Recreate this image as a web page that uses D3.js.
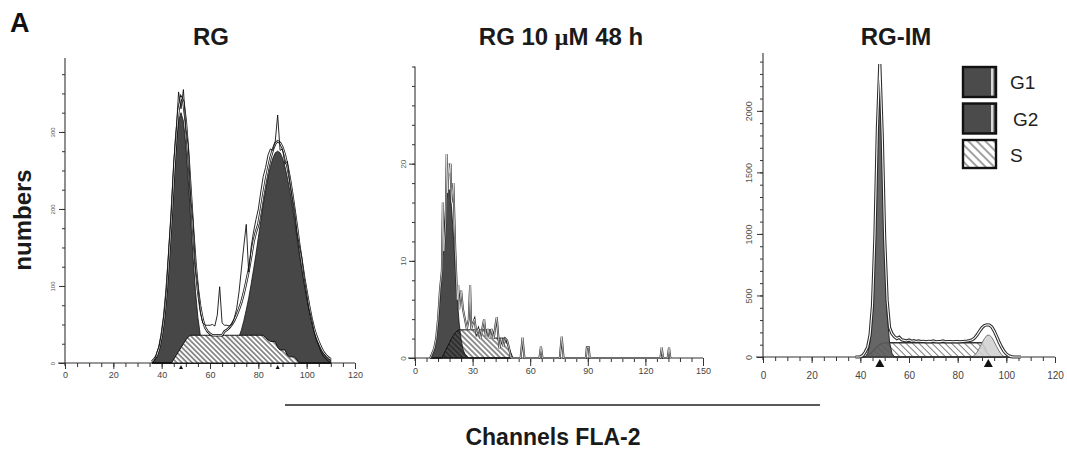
<!DOCTYPE html>
<html>
<head>
<meta charset="utf-8">
<script src="https://cdn.jsdelivr.net/npm/d3@7"></script>
<style>
  body { margin: 0; background: #fff; }
  svg { display: block; font-family: "Liberation Sans", Arial, sans-serif; }
</style>
</head>
<body>
<svg id="chart" width="1067" height="450"></svg>
<script>
// ---- data ----
var panelTitles = ["RG", "RG 10 ", "RG-IM"];

// panel 1 : RG  (channel 36..110)
var ch1 = [36,37,38,39,40,41,42,43,44,45,46,47,48,49,50,51,52,53,54,55,56,57,58,59,60,61,62,63,64,65,66,67,68,69,70,71,72,73,74,75,76,77,78,79,80,81,82,83,84,85,86,87,88,89,90,91,92,93,94,95,96,97,98,99,100,101,102,103,104,105,106,107,108,109,110];
var g1_1 = [2,5,10,20,36,59,93,137,187,238,283,314,325,314,283,238,187,137,93,59,36,20,10,5,2,0,0,0,0,0,0,0,0,0,0,0,0,0,0,0,0,0,0,0,0,0,0,0,0,0,0,0,0,0,0,0,0,0,0,0,0,0,0,0,0,0,0,0,0,0,0,0,0,0,0];
var g2_1 = [0,0,0,0,0,0,0,0,0,0,0,0,0,0,0,0,0,0,0,0,0,0,0,0,0,0,0,0,0,0,5,7,10,14,19,26,34,43,55,69,84,102,121,141,163,184,205,224,241,255,266,273,275,273,266,255,241,224,205,184,163,141,121,102,84,69,55,43,34,26,19,14,10,7,5];
var s_1 = [0,0,0,0,0,0,0,0,0,5,10,15,20,25,30,34,36,36,36,36,36,36,36,36,36,36,36,36,36,36,36,36,36,36,36,36,36,36,36,36,36,36,36,36,36,36,36,33,30,28,28,28,20,17,17,17,10,8,8,8,4,0,0,0,0,0,0,0,0,0,0,0,0,0,0];
var fit_1 = [2,5,10,20,36,59,93,137,187,243,293,329,345,339,313,272,223,173,129,95,72,56,46,41,38,36,36,36,36,36,41,43,46,50,55,62,70,79,91,105,120,138,157,170,180,198,218,236,252,266,277,285,288,286,280,270,256,240,220,198,176,152,131,110,92,74,58,45,35,27,20,14,10,7,5];
var raw_1 = [0,3,14,22,40,64,98,150,196,262,300,352,330,355,305,282,215,182,122,100,66,52,49,49,49,50,48,62,99,52,49,49,48,50,58,70,92,122,152,180,118,150,170,186,200,222,242,254,270,278,276,288,322,276,278,258,262,236,216,198,170,152,136,110,90,70,58,42,30,22,14,8,5,2,0];
var marks_1 = [48, 88];

// panel 2 : RG 10 uM 48 h  (channel 8..52 for the fitted parts)
var ch2 = [8,9,10,11,12,13,14,15,16,17,18,19,20,21,22,23,24,25,26,27,28,29,30,31,32,33,34,35,36,37,38,39,40,41,42,43,44,45,46,47,48,49,50,51,52];
var g1_2 = [0.2,0.4,0.9,1.9,3.6,6.1,9.2,12.6,15.6,17.3,17.3,15.6,12.6,9.2,6.1,3.6,1.9,0.9,0.4,0.2,0,0,0,0,0,0,0,0,0,0,0,0,0,0,0,0,0,0,0,0,0,0,0,0,0];
var s_2 = [0,0,0,0,0,0,0,0.4,0.8,1.2,1.6,2.0,2.3,2.6,2.8,2.9,2.9,2.9,2.9,2.9,2.9,2.9,2.9,2.9,2.9,2.9,2.9,2.9,2.9,2.9,2.9,2.9,2.9,2.05,2.05,2.05,2.05,2.05,2.05,2.05,1.5,1.0,0.5,0,0];
var rawCh2 = [8,9,10,11,12,13,14,14.5,15,16,16.5,17,17.5,18,18.5,19,20,21,22,22.5,23,24,25,26,27,28,28.7,29.3,30,31,32,33,34,35,36,37,38,39,40,41,42,42.6,43.5,44,45,46,47,48,49,50,55,56,57,64.8,65.6,66.4,75.4,76.4,77.4,89,89.5,90.5,91,127.8,128.5,129.2,131.6,132.3,133];
var raw_2 = [0,0.5,1,2,4,7,9,16,11,14,21,17,20,19,20,16,18,11,6,7.5,5,7,5,4,3,4,7.5,3,3.5,4,2.5,3,2,3,4,2,3,2,3,2,3.5,4.2,2,1,2,1.2,2,1.8,1,0,0,2.1,0,0,1.2,0,0,2.2,0,0,1.1,1.1,0,0,1.1,0,0,1.1,0];

// panel 3 : RG-IM  (channel 38..106)
var ch3 = [38,39,40,41,42,43,44,45,46,47,48,49,50,51,52,53,54,55,56,57,58,59,60,61,62,63,64,65,66,67,68,69,70,71,72,73,74,75,76,77,78,79,80,81,82,83,84,85,86,87,88,89,90,91,92,93,94,95,96,97,98,99,100,101,102,103,104,105,106];
var g1_3 = [0,0,0,0,0,30,120,350,900,1750,2350,1700,850,350,120,30,0,0,0,0,0,0,0,0,0,0,0,0,0,0,0,0,0,0,0,0,0,0,0,0,0,0,0,0,0,0,0,0,0,0,0,0,0,0,0,0,0,0,0,0,0,0,0,0,0,0,0,0,0];
var g2_3 = [0,0,0,0,0,0,0,0,0,0,0,0,0,0,0,0,0,0,0,0,0,0,0,0,0,0,0,0,0,0,0,0,0,0,0,0,0,0,0,0,0,0,0,0,0,0,0,0,0,15,40,75,115,150,175,178,160,125,85,50,20,5,0,0,0,0,0,0,0];
var s_3 = [0,0,0,0,0,10,25,45,65,85,100,110,115,116,116,116,116,116,116,116,116,116,116,116,116,116,116,116,116,116,116,116,116,116,116,116,116,116,116,116,116,116,116,116,116,116,116,116,116,116,116,116,116,80,40,10,0,0,0,0,0,0,0,0,0,0,0,0,0];
var fit_3 = [0,0,2,12,40,80,180,420,980,1850,2380,1800,960,460,240,190,165,150,160,140,135,130,138,128,132,126,130,126,128,124,127,125,130,124,126,125,130,124,126,125,124,126,125,124,126,128,130,134,140,155,180,210,238,255,262,260,245,212,168,122,82,48,25,10,3,0,0,0,0];
var marks_3 = [48, 92.6];

// axis ticks
var xTicks1 = [0, 20, 40, 60, 80, 100, 120];
var yTicks1 = [0, 100, 200, 300];
var xTicks2 = [0, 30, 60, 90, 120, 150];
var yTicks2 = [0, 10, 20];
var xTicks3 = [0, 20, 40, 60, 80, 100, 120];
var yTicks3 = [0, 500, 1000, 1500, 2000];

var legendLabels = ["G1", "G2", "S"];

// ---- drawing ----
var svg = d3.select("#chart");
var defs = svg.append("defs");

function hatch(id, gap, color, w, bg) {
  var p = defs.append("pattern").attr("id", id)
    .attr("patternUnits", "userSpaceOnUse")
    .attr("width", gap).attr("height", gap)
    .attr("patternTransform", "rotate(-45)");
  if (bg) p.append("rect").attr("width", gap).attr("height", gap).attr("fill", bg);
  p.append("line").attr("x1", gap / 2).attr("x2", gap / 2).attr("y1", 0).attr("y2", gap)
    .attr("stroke", color).attr("stroke-width", w);
}
hatch("h1", 3.6, "#111", 0.9, "#fff");
hatch("h2", 3.8, "#111", 0.9, null);
hatch("h3", 4.6, "#7a7a7a", 1, "#fff");
hatch("hl", 6, "#555", 1.1, "#fff");

function zip(xs, ys) {
  return xs.map(function(c, i) { return { c: c, v: ys[i] }; });
}

function axes(g, x, y, o) {
  var base = y(0);
  // x axis line runs a little past the y axis
  g.append("line").attr("x1", x.range()[0] - 7).attr("x2", x.range()[1])
    .attr("y1", base).attr("y2", base).attr("stroke", "#333").attr("stroke-width", 1.1);
  g.append("line").attr("x1", x.range()[0]).attr("x2", x.range()[0])
    .attr("y1", y.range()[1]).attr("y2", base + 3).attr("stroke", "#333").attr("stroke-width", 1.1);

  var xm = g.append("g").attr("transform", "translate(0," + base + ")")
    .call(d3.axisBottom(x).tickValues(o.xMinor).tickSize(4).tickFormat(""));
  xm.select(".domain").remove();
  var xa = g.append("g").attr("transform", "translate(0," + base + ")")
    .call(d3.axisBottom(x).tickValues(o.xTicks).tickSize(o.xMajorLen).tickPadding(o.xPad).tickFormat(d3.format("d")));
  xa.select(".domain").remove();
  xa.selectAll("text").attr("fill", "#444").style("font-size", o.xFont + "px")
    .style("font-family", "'Liberation Sans', Arial, sans-serif");

  var ym = g.append("g").attr("transform", "translate(" + x.range()[0] + ",0)")
    .call(d3.axisLeft(y).tickValues(o.yMinor).tickSize(3).tickFormat(""));
  ym.select(".domain").remove();
  var ya = g.append("g").attr("transform", "translate(" + x.range()[0] + ",0)")
    .call(d3.axisLeft(y).tickValues(o.yTicks).tickSize(6).tickFormat(d3.format("d")));
  ya.select(".domain").remove();
  ya.selectAll("text")
    .attr("transform", "rotate(-90)")
    .attr("x", 0).attr("y", -o.yOff).attr("dy", "0.35em")
    .style("text-anchor", "middle")
    .attr("fill", "#555").style("font-size", o.yFont + "px")
    .style("font-family", "'Liberation Sans', Arial, sans-serif");
  g.selectAll(".tick line").attr("stroke", "#333");
}

function areaFor(x, y) {
  return d3.area().x(function(d) { return x(d.c); }).y0(y(0)).y1(function(d) { return y(d.v); });
}
function lineFor(x, y) {
  return d3.line().x(function(d) { return x(d.c); }).y(function(d) { return y(d.v); });
}
function markers(g, x, y, list, w, h) {
  g.selectAll(null).data(list).enter().append("path")
    .attr("d", function(d) {
      var cx = x(d), b = y(0) + 2;
      return "M" + cx + "," + b + "L" + (cx - w / 2) + "," + (b + h) + "L" + (cx + w / 2) + "," + (b + h) + "Z";
    })
    .attr("fill", "#111");
}

// panel 1
(function() {
  var x = d3.scaleLinear().domain([0, 120]).range([65, 355]);
  var y = d3.scaleLinear().domain([0, 396]).range([363, 58]);
  var g = svg.append("g");
  axes(g, x, y, {
    xTicks: xTicks1, xMinor: d3.range(0, 121, 5), xMajorLen: 6, xPad: 3, xFont: 9,
    yTicks: yTicks1, yMinor: d3.range(0, 396, 25), yOff: 12, yFont: 6
  });
  var area = areaFor(x, y), line = lineFor(x, y);
  g.append("path").datum(zip(ch1, g1_1)).attr("d", area).attr("fill", "#474747").attr("stroke", "#111").attr("stroke-width", 0.8);
  g.append("path").datum(zip(ch1, g2_1)).attr("d", area).attr("fill", "#474747").attr("stroke", "#111").attr("stroke-width", 0.8);
  g.append("path").datum(zip(ch1, s_1)).attr("d", area).attr("fill", "url(#h1)").attr("stroke", "#111").attr("stroke-width", 1);
  g.append("path").datum(zip(ch1, fit_1)).attr("d", line).attr("fill", "none").attr("stroke", "#111").attr("stroke-width", 2.4);
  g.append("path").datum(zip(ch1, fit_1)).attr("d", line).attr("fill", "none").attr("stroke", "#fff").attr("stroke-width", 0.9);
  g.append("path").datum(zip(ch1, raw_1)).attr("d", line).attr("fill", "none").attr("stroke", "#111").attr("stroke-width", 0.9);
  markers(g, x, y, marks_1, 4, 4);
})();

// panel 2
(function() {
  var x = d3.scaleLinear().domain([0, 150]).range([415, 703]);
  var y = d3.scaleLinear().domain([0, 30]).range([358, 66.5]);
  var g = svg.append("g");
  axes(g, x, y, {
    xTicks: xTicks2, xMinor: d3.range(0, 151, 6), xMajorLen: 8, xPad: 2, xFont: 9,
    yTicks: yTicks2, yMinor: d3.range(0, 31, 2), yOff: 12, yFont: 8
  });
  var area = areaFor(x, y), line = lineFor(x, y);
  g.append("path").datum(zip(ch2, g1_2)).attr("d", area).attr("fill", "#4a4a4a").attr("stroke", "#111").attr("stroke-width", 0.8);
  g.append("path").datum(zip(ch2, s_2)).attr("d", area).attr("fill", "url(#h2)").attr("stroke", "#111").attr("stroke-width", 1);
  var raw = zip(rawCh2, raw_2);
  var rline = line.defined(function(d, i) {
    return d.v > 0 || (i > 0 && raw[i - 1].v > 0) || (i < raw.length - 1 && raw[i + 1].v > 0);
  });
  g.append("path").datum(raw).attr("d", rline).attr("fill", "none").attr("stroke", "#222").attr("stroke-width", 2);
  g.append("path").datum(raw).attr("d", rline).attr("fill", "none").attr("stroke", "#fff").attr("stroke-width", 0.7);
})();

// panel 3
(function() {
  var x = d3.scaleLinear().domain([0, 120]).range([763, 1055]);
  var y = d3.scaleLinear().domain([0, 2470]).range([357, 53]);
  var g = svg.append("g");
  axes(g, x, y, {
    xTicks: xTicks3, xMinor: d3.range(0, 121, 5), xMajorLen: 6, xPad: 9, xFont: 10,
    yTicks: yTicks3, yMinor: d3.range(0, 2470, 100), yOff: 14, yFont: 9
  });
  var area = areaFor(x, y), line = lineFor(x, y);
  g.append("path").datum(zip(ch3, s_3)).attr("d", area).attr("fill", "url(#h3)").attr("stroke", "#333").attr("stroke-width", 1.4);
  g.append("path").datum(zip(ch3, g2_3)).attr("d", area).attr("fill", "#d2d2d2").attr("fill-opacity", 0.9).attr("stroke", "#777").attr("stroke-width", 1);
  g.append("path").datum(zip(ch3, g1_3)).attr("d", area).attr("fill", "#595959").attr("fill-opacity", 0.92).attr("stroke", "#2a2a2a").attr("stroke-width", 1);
  g.append("path").datum(zip(ch3, fit_3)).attr("d", line).attr("fill", "none").attr("stroke", "#2b2b2b").attr("stroke-width", 3.2);
  g.append("path").datum(zip(ch3, fit_3)).attr("d", line).attr("fill", "none").attr("stroke", "#fff").attr("stroke-width", 1.1);
  markers(g, x, y, marks_3, 9, 8);

  // legend
  var lg = svg.append("g").attr("transform", "translate(963,67)");
  var item = lg.selectAll("g").data(legendLabels).enter().append("g")
    .attr("transform", function(d, i) { return "translate(0," + (i * 36.5) + ")"; });
  item.append("rect").attr("width", 33).attr("height", function(d, i) { return i === 2 ? 28 : 30; })
    .attr("fill", function(d, i) { return i === 2 ? "url(#hl)" : "#4b4b4b"; })
    .attr("stroke", "#111").attr("stroke-width", 2.4);
  item.filter(function(d, i) { return i < 2; }).append("rect")
    .attr("x", 28).attr("y", 1.5).attr("width", 2.5).attr("height", 27).attr("fill", "#d8d8d8");
  item.append("text").attr("x", function(d, i) { return i === 1 ? 50 : 47; }).attr("y", 22)
    .attr("fill", "#222").style("font-size", "19px").text(function(d) { return d; });
})();

// titles and outer labels
var tx = [211, 561, 896];
panelTitles.forEach(function(t, i) {
  var el = svg.append("text").attr("x", tx[i]).attr("y", 45).attr("text-anchor", "middle")
    .style("font-size", "24px").style("font-weight", "bold").attr("fill", "#1a1a1a");
  if (i === 1) {
    el.append("tspan").text(t);
    el.append("tspan").style("font-family", "'Liberation Serif', 'DejaVu Serif', serif").text("\u03bc");
    el.append("tspan").text("M 48 h");
  } else {
    el.text(t);
  }
});

svg.append("text").attr("x", 10).attr("y", 32).style("font-size", "27px").style("font-weight", "bold")
  .attr("fill", "#111").text("A");

svg.append("text").attr("transform", "translate(31,220) rotate(-90)").attr("text-anchor", "middle")
  .style("font-size", "24px").style("font-weight", "bold").attr("fill", "#1a1a1a").text("numbers");

svg.append("line").attr("x1", 285).attr("x2", 820).attr("y1", 405).attr("y2", 405)
  .attr("stroke", "#222").attr("stroke-width", 1.3);

svg.append("text").attr("x", 553).attr("y", 445).attr("text-anchor", "middle")
  .style("font-size", "23px").style("font-weight", "bold").attr("fill", "#1a1a1a").text("Channels FLA-2");
</script>
</body>
</html>
